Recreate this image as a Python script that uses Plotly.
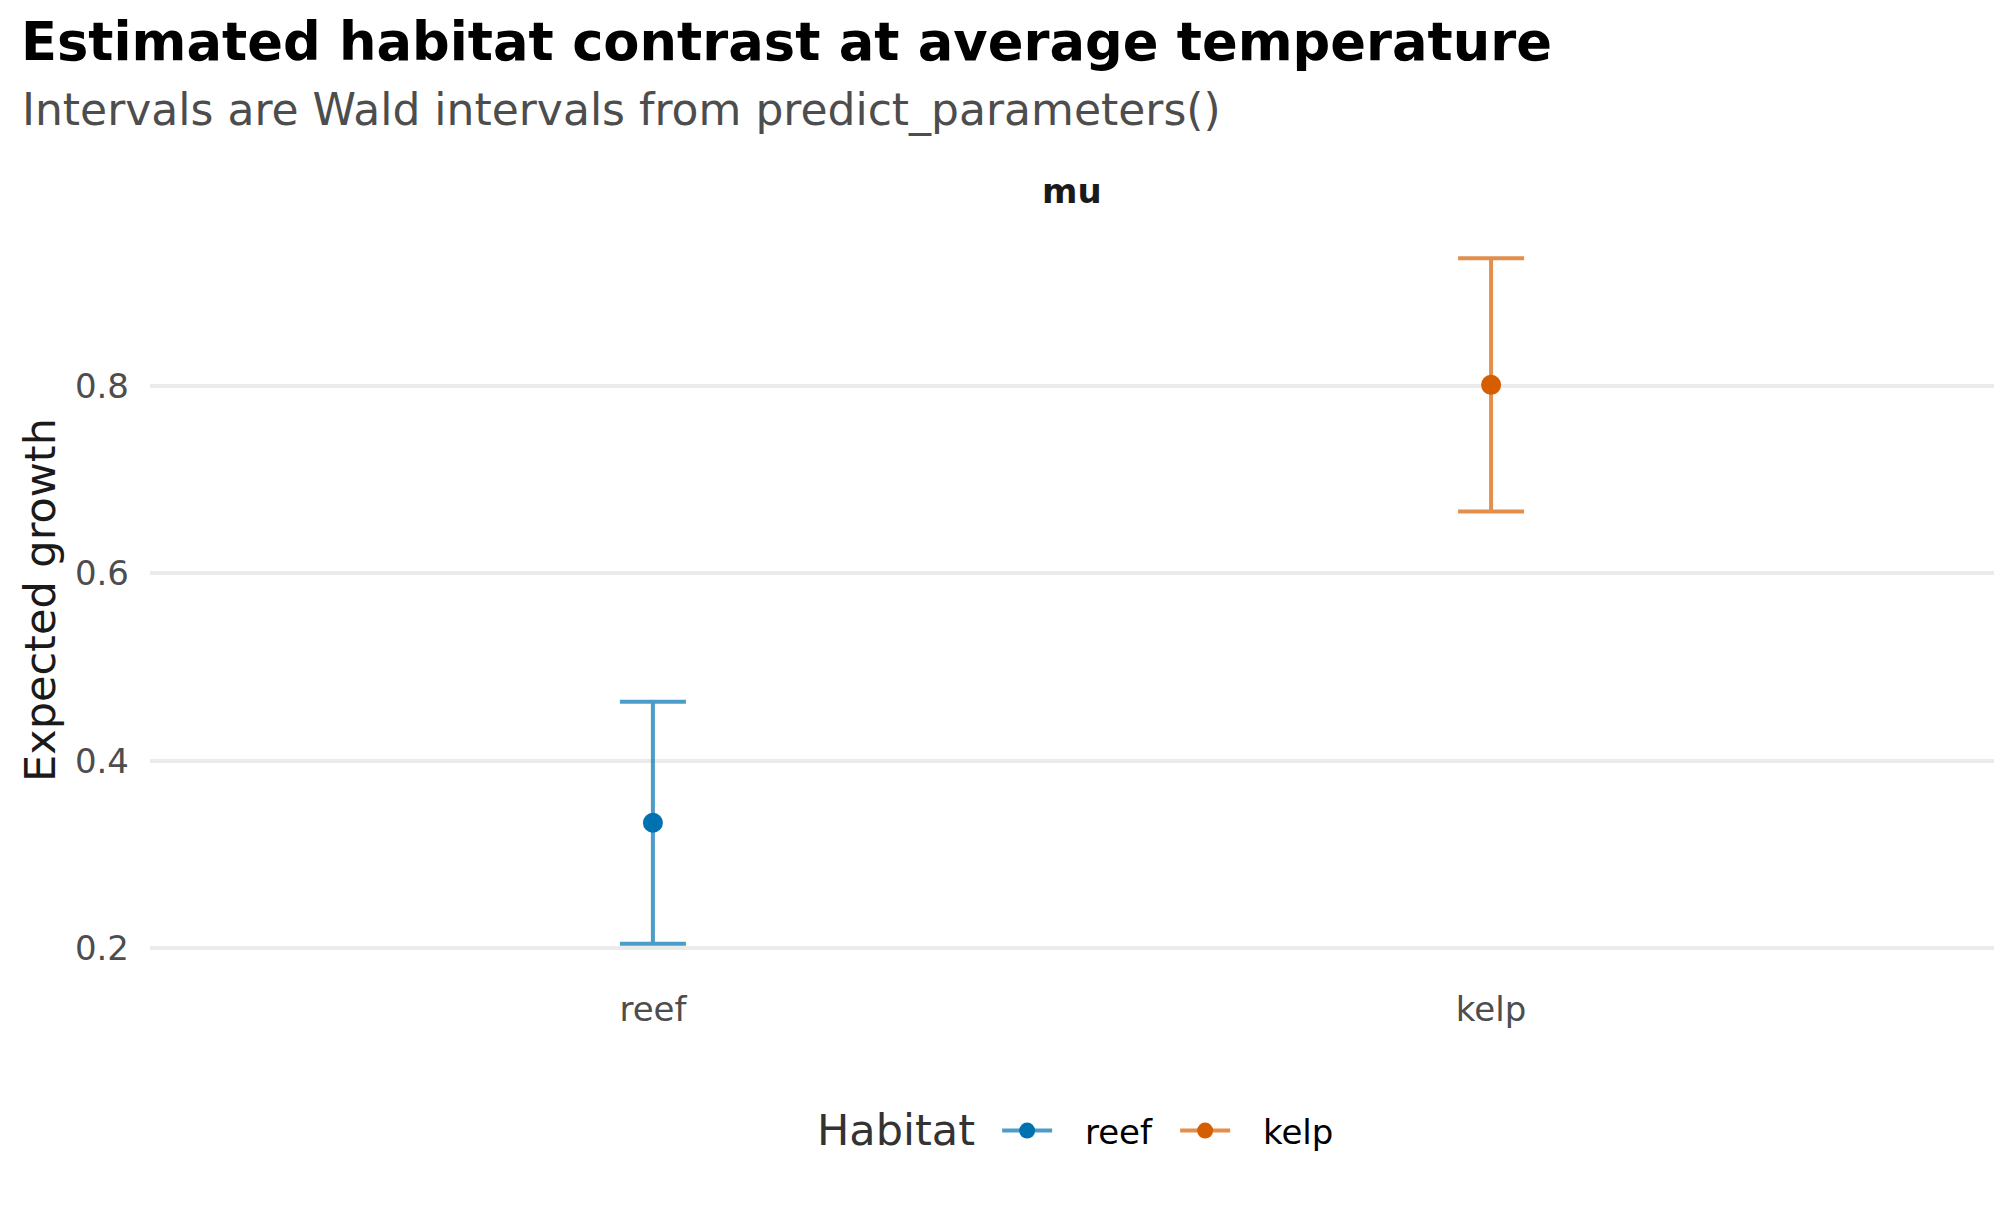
import plotly.graph_objects as go

# === DADOS ===
habitat = ["reef", "kelp"]
estimate = [0.334, 0.801]
lower = [0.205, 0.666]
upper = [0.463, 0.936]
point_colors = ["#0072B2", "#D55E00"]
bar_colors = ["rgba(0,114,178,0.7)", "rgba(213,94,0,0.7)"]

FONT = "DejaVu Sans"

# faixa do eixo y com expansao de 5% (estilo ggplot)
lo, hi = min(lower), max(upper)
pad = (hi - lo) * 0.05
y_range = [lo - pad, hi + pad]

fig = go.Figure()

for i, h in enumerate(habitat):
    fig.add_trace(go.Scatter(
        x=[h], y=[estimate[i]],
        mode="lines+markers",
        name="\u00a0\u2002" + h,  # espaco entre simbolo e texto na legenda
        marker=dict(color=point_colors[i], size=20),
        line=dict(color=bar_colors[i], width=4),
        error_y=dict(
            type="data", symmetric=False,
            array=[upper[i] - estimate[i]],
            arrayminus=[estimate[i] - lower[i]],
            color=bar_colors[i], thickness=4, width=33,
        ),
    ))

fig.update_layout(
    width=2016, height=1209,
    margin=dict(l=150, r=22, t=224, b=231),
    plot_bgcolor="white", paper_bgcolor="white",
    font=dict(family=FONT, color="#1A1A1A"),
    showlegend=True,
    legend=dict(
        orientation="h", x=0.4594, xanchor="left", y=-0.2029, yanchor="middle",
        font=dict(size=34, color="#000000"),
        itemwidth=50, entrywidth=113,
    ),
    annotations=[
        dict(text="<b>Estimated habitat contrast at average temperature</b>",
             xref="paper", yref="paper", x=-0.0708, y=1.2414, xanchor="left", yanchor="middle",
             showarrow=False, font=dict(size=52.7, color="#000000")),
        dict(text="Intervals are Wald intervals from predict_parameters()",
             xref="paper", yref="paper", x=-0.0706, y=1.1515, xanchor="left", yanchor="middle",
             showarrow=False, font=dict(size=44, color="#4D4D4D")),
        dict(text="<b>mu</b>",
             xref="paper", yref="paper", x=0.5, y=1.0438, xanchor="center", yanchor="middle",
             showarrow=False, font=dict(size=34, color="#1A1A1A")),
        dict(text="Expected growth", textangle=-90,
             xref="paper", yref="paper", x=-0.0597, y=0.5013, xanchor="center", yanchor="middle",
             showarrow=False, font=dict(size=43, color="#1A1A1A")),
        # titulo da legenda
        dict(text="Habitat",
             xref="paper", yref="paper", x=0.3606, y=-0.2016, xanchor="left", yanchor="middle",
             showarrow=False, font=dict(size=43, color="#333333")),
    ],
)

fig.update_xaxes(
    type="category", range=[-0.6, 1.6],
    showgrid=False, zeroline=False, showline=False, ticks="",
    tickfont=dict(size=34, color="#4D4D4D"), ticklabelstandoff=8,
)
fig.update_yaxes(
    range=y_range, tickvals=[0.2, 0.4, 0.6, 0.8], ticktext=["0.2", "0.4", "0.6", "0.8"],
    showgrid=True, gridcolor="#EBEBEB", gridwidth=4,
    zeroline=False, showline=False, ticks="",
    tickfont=dict(size=34, color="#4D4D4D"), ticklabelstandoff=20,
)

fig.write_html("out.html", config={"displayModeBar": False},
               post_script="document.body.style.margin='0';")
